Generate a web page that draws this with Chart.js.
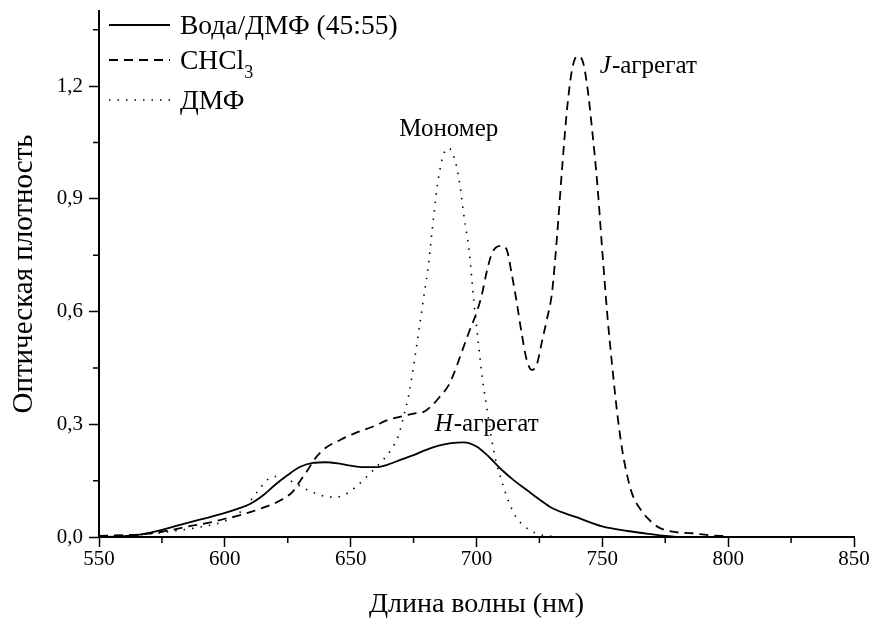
<!DOCTYPE html>
<html><head><meta charset="utf-8">
<script src="https://cdn.jsdelivr.net/npm/chart.js@4.4.0/dist/chart.umd.min.js"></script>
<style>html,body{margin:0;padding:0;background:#fff;}</style>
</head><body>
<canvas id="c" width="871" height="619"></canvas>
<script>
// ---- data ----
const waterX = [550,560,565,570,575,580,590,600,605,610,615,620,625,630,635,640,645,650,655,660,665,670,675,680,685,690,695,700,705,710,715,720,725,730,740,750,760,770,775,780];
const waterY = [0,0.002,0.005,0.011,0.019,0.028,0.046,0.064,0.075,0.088,0.11,0.139,0.165,0.187,0.197,0.199,0.196,0.19,0.186,0.186,0.193,0.206,0.218,0.232,0.243,0.25,0.252,0.241,0.213,0.179,0.15,0.125,0.1,0.077,0.052,0.028,0.016,0.007,0.003,0];

const chclX = [550,560,567,575,587,595,601,607,614,621,627,630,633,636,640,646,652,659,665,671,676,679,682,685,689,691,694,697,700,702,704,706,708,710,712,714,716,718,720,722,724,726,728,730,732,734,736,738,740,742,744,746,748,750,752,754,756,758,760,762,765,768,772,778,786,792,800];
const chclY = [0.003,0.005,0.007,0.014,0.03,0.04,0.05,0.06,0.075,0.094,0.121,0.15,0.179,0.21,0.237,0.259,0.277,0.294,0.312,0.322,0.33,0.333,0.348,0.37,0.405,0.435,0.49,0.545,0.597,0.641,0.704,0.753,0.772,0.775,0.765,0.7,0.624,0.54,0.47,0.445,0.46,0.52,0.58,0.65,0.8,0.98,1.14,1.245,1.28,1.27,1.2,1.08,0.94,0.76,0.59,0.45,0.325,0.228,0.16,0.112,0.075,0.05,0.027,0.014,0.01,0.005,0.002];

const dmfX = [550,560,570,580,590,600,605,610,614,617,620,624,628,632,636,640,644,648,652,656,660,663,666,669,671,673,675,677,679,681,683,685,687,689,691,693,695,697,699,701,702,703,704,706,708,710,712,714,716,718,721,725,730,740,760,780,800];
const dmfY = [0,0.002,0.008,0.016,0.026,0.042,0.06,0.095,0.13,0.153,0.161,0.155,0.143,0.128,0.116,0.108,0.106,0.114,0.133,0.158,0.185,0.206,0.232,0.27,0.32,0.375,0.455,0.545,0.637,0.73,0.855,0.96,1.02,1.035,1.012,0.955,0.855,0.765,0.625,0.5,0.44,0.39,0.348,0.26,0.195,0.15,0.108,0.075,0.05,0.035,0.019,0.007,0.002,0,0,0,0];

const seriesNames = ['Вода/ДМФ (45:55)', 'CHCl', 'ДМФ'];
const seriesSub = ['', '3', ''];
const xTicks = [550,600,650,700,750,800,850];
const xMinorTicks = [575,625,675,725,775,825];
const yTicks = [0,0.3,0.6,0.9,1.2];
const yTickLabels = ['0,0','0,3','0,6','0,9','1,2'];
const yMinorTicks = [0.15,0.45,0.75,1.05,1.35];
const xTitle = 'Длина волны (нм)';
const yTitle = 'Оптическая плотность';
// annotations: [italic prefix, rest, x (nm), y (value), align]
const notes = [
  ['', 'Мономер', 688.6, 1.086, 'center'],
  ['H', '-агрегат', 683.4, 0.299, 'left'],
  ['J', '-агрегат', 749.0, 1.252, 'left']
];

const FONT = '"Liberation Serif", "Times New Roman", serif';

const pts = (xs, ys) => xs.map((x, i) => ({x, y: ys[i]}));

const minorTicks = {
  id: 'minorTicks',
  afterDraw(chart) {
    const {ctx, scales: {x, y}, chartArea: a} = chart;
    ctx.save();
    ctx.strokeStyle = '#000';
    ctx.lineWidth = 1.5;
    ctx.beginPath();
    xMinorTicks.forEach(v => { const p = x.getPixelForValue(v); ctx.moveTo(p, a.bottom); ctx.lineTo(p, a.bottom + 6); });
    yMinorTicks.forEach(v => { const p = y.getPixelForValue(v); ctx.moveTo(a.left, p); ctx.lineTo(a.left - 6, p); });
    ctx.stroke();
    ctx.restore();
  }
};

const notesPlugin = {
  id: 'notes',
  afterDraw(chart) {
    const {ctx, scales: {x, y}} = chart;
    ctx.save();
    ctx.fillStyle = '#000';
    ctx.textBaseline = 'middle';
    ctx.textAlign = 'left';
    notes.forEach(([it, rest, nx, ny, align]) => {
      const px = x.getPixelForValue(nx), py = y.getPixelForValue(ny);
      ctx.font = 'italic 25px ' + FONT;
      const wi = it ? ctx.measureText(it).width : 0;
      ctx.font = '25px ' + FONT;
      const wr = ctx.measureText(rest).width;
      const sx = align === 'center' ? px - (wi + wr) / 2 : px;
      if (it) { ctx.font = 'italic 25px ' + FONT; ctx.fillText(it, sx, py); }
      ctx.font = '25px ' + FONT;
      ctx.fillText(rest, sx + wi + 1, py);
    });
    ctx.restore();
  }
};

const legendPlugin = {
  id: 'customLegend',
  afterDraw(chart) {
    const {ctx, chartArea: a} = chart;
    ctx.save();
    const rows = [25, 60, 100];
    chart.data.datasets.forEach((ds, i) => {
      const yy = rows[i];
      ctx.strokeStyle = ds.borderColor;
      ctx.lineWidth = ds.borderWidth;
      ctx.setLineDash(ds.borderDash || []);
      ctx.beginPath();
      ctx.moveTo(a.left + 10, yy);
      ctx.lineTo(a.left + 71, yy);
      ctx.stroke();
      ctx.setLineDash([]);
      ctx.fillStyle = '#000';
      ctx.textBaseline = 'middle';
      ctx.textAlign = 'left';
      ctx.font = '27.5px ' + FONT;
      const tx = a.left + 81;
      ctx.fillText(seriesNames[i], tx, yy + 2);
      if (seriesSub[i]) {
        const w = ctx.measureText(seriesNames[i]).width;
        ctx.font = '18px ' + FONT;
        ctx.fillText(seriesSub[i], tx + w, yy + 13);
      }
    });
    ctx.restore();
  }
};

new Chart(document.getElementById('c'), {
  type: 'line',
  data: {
    datasets: [
      {label: seriesNames[0], data: pts(waterX, waterY), borderColor: '#000', borderWidth: 1.8, pointRadius: 0, cubicInterpolationMode: 'monotone', fill: false},
      {label: seriesNames[1] + '3', data: pts(chclX, chclY), borderColor: '#000', borderWidth: 1.8, borderDash: [9, 6], pointRadius: 0, cubicInterpolationMode: 'monotone', fill: false},
      {label: seriesNames[2], data: pts(dmfX, dmfY), borderColor: '#000', borderWidth: 1.6, borderDash: [1.5, 7], pointRadius: 0, cubicInterpolationMode: 'monotone', fill: false}
    ]
  },
  options: {
    responsive: false,
    animation: false,
    devicePixelRatio: 1,
    layout: {padding: {top: 11, right: 17, left: 0, bottom: 0}},
    plugins: {legend: {display: false}, tooltip: {enabled: false}},
    scales: {
      x: {
        type: 'linear', min: 550, max: 850,
        afterBuildTicks: s => { s.ticks = xTicks.map(v => ({value: v})); },
        afterFit: s => { s.height = 82; s.paddingLeft = 0; s.paddingRight = 0; },
        border: {color: '#000', width: 2},
        grid: {drawOnChartArea: false, drawTicks: true, tickLength: 10, tickColor: '#000', tickWidth: 1.5},
        ticks: {color: '#000', font: {family: FONT, size: 21}, padding: 0, maxRotation: 0, autoSkip: false, callback: v => String(v)},
        title: {display: true, text: xTitle, color: '#000', font: {family: FONT, size: 28, lineHeight: 1}, padding: {top: 0, bottom: 0}}
      },
      y: {
        type: 'linear', min: 0, max: 1.4,
        afterBuildTicks: s => { s.ticks = yTicks.map(v => ({value: v})); },
        afterFit: s => { s.width = 99; s.paddingTop = 0; s.paddingBottom = 0; },
        border: {color: '#000', width: 2},
        grid: {drawOnChartArea: false, drawTicks: true, tickLength: 10, tickColor: '#000', tickWidth: 1.5},
        ticks: {color: '#000', font: {family: FONT, size: 21}, padding: 6, autoSkip: false, callback: v => yTickLabels[yTicks.indexOf(v)]},
        title: {display: true, text: yTitle, color: '#000', font: {family: FONT, size: 29}, padding: {top: 7, bottom: 0}}
      }
    }
  },
  plugins: [minorTicks, notesPlugin, legendPlugin]
});
</script>
</body></html>
